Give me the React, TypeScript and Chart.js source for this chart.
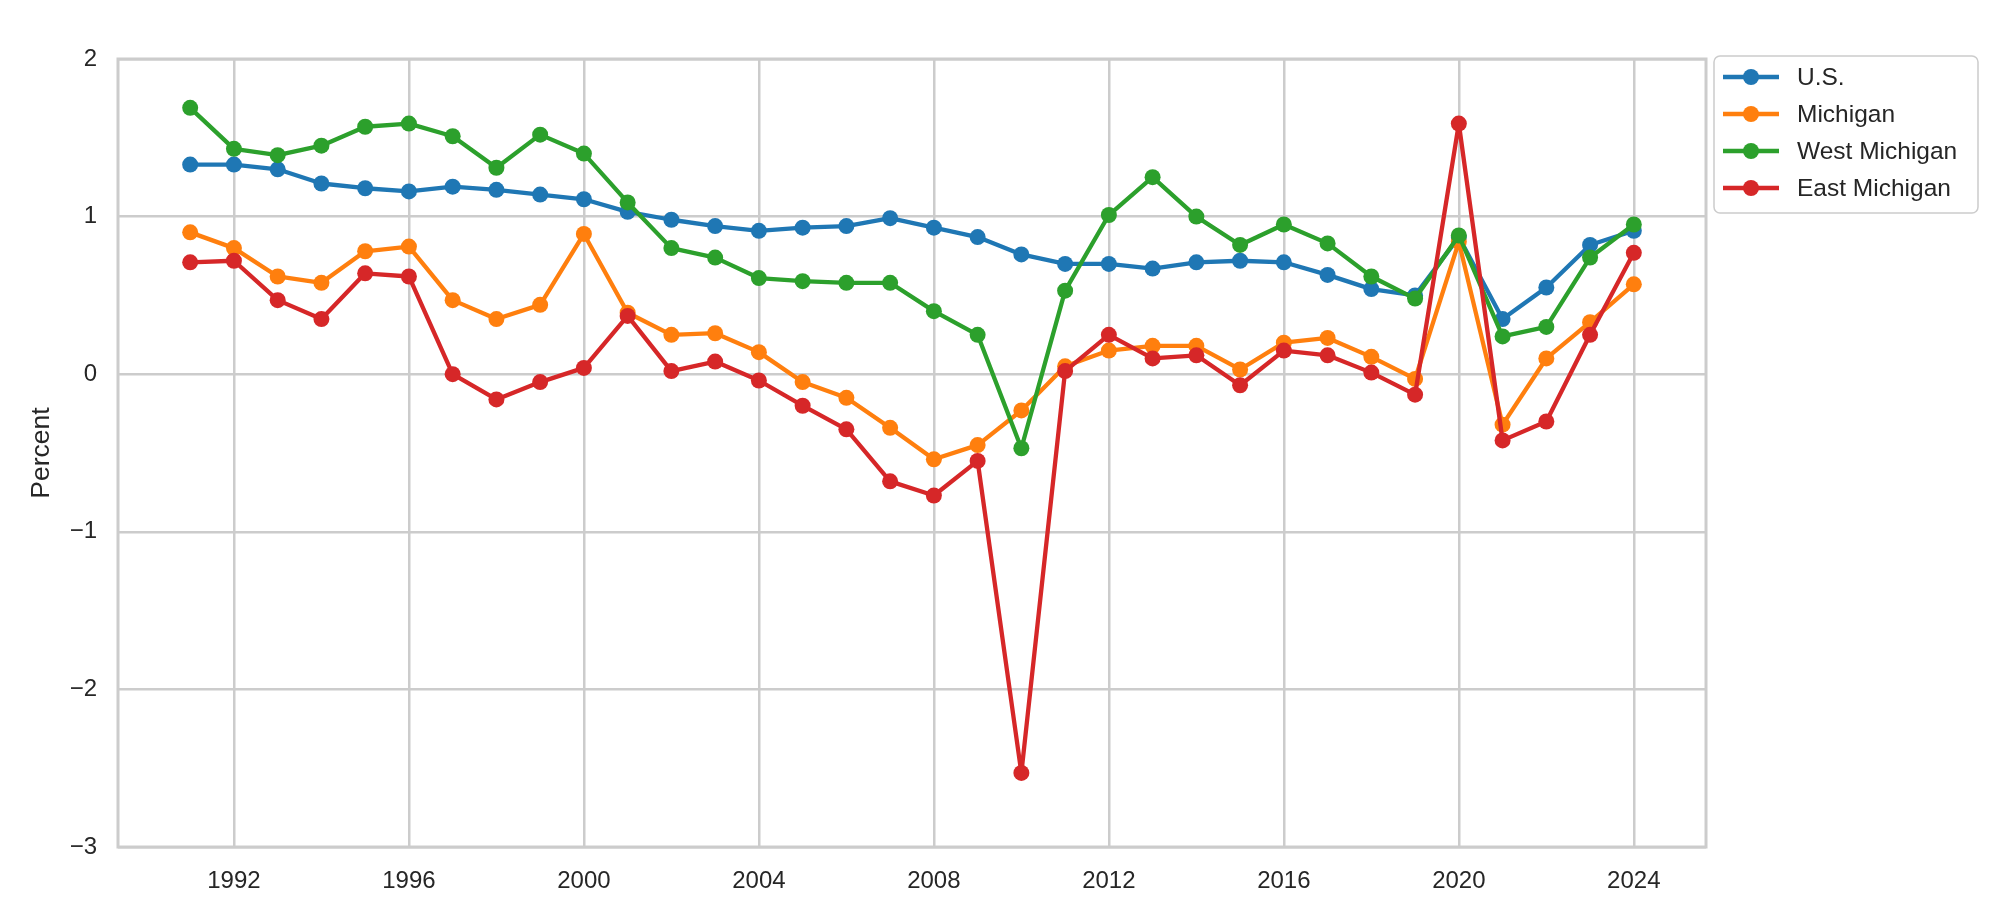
import React, { useEffect, useRef } from "react";
import { Chart, registerables } from "chart.js";

Chart.register(...registerables);

const years = [
  1991, 1992, 1993, 1994, 1995, 1996, 1997, 1998, 1999, 2000,
  2001, 2002, 2003, 2004, 2005, 2006, 2007, 2008, 2009, 2010,
  2011, 2012, 2013, 2014, 2015, 2016, 2017, 2018, 2019, 2020,
  2021, 2022, 2023, 2024,
];

const usValues = [
  1.33, 1.33, 1.30, 1.21, 1.18, 1.16, 1.19, 1.17, 1.14, 1.11,
  1.03, 0.98, 0.94, 0.91, 0.93, 0.94, 0.99, 0.93, 0.87, 0.76,
  0.70, 0.70, 0.67, 0.71, 0.72, 0.71, 0.63, 0.54, 0.50, 0.87,
  0.35, 0.55, 0.82, 0.91,
];

const michiganValues = [
  0.90, 0.80, 0.62, 0.58, 0.78, 0.81, 0.47, 0.35, 0.44, 0.89,
  0.39, 0.25, 0.26, 0.14, -0.05, -0.15, -0.34, -0.54, -0.45, -0.23,
  0.05, 0.15, 0.18, 0.18, 0.03, 0.20, 0.23, 0.11, -0.03, 0.84,
  -0.32, 0.10, 0.33, 0.57,
];

const westMichiganValues = [
  1.69, 1.43, 1.39, 1.45, 1.57, 1.59, 1.51, 1.31, 1.52, 1.40,
  1.09, 0.80, 0.74, 0.61, 0.59, 0.58, 0.58, 0.40, 0.25, -0.47,
  0.53, 1.01, 1.25, 1.00, 0.82, 0.95, 0.83, 0.62, 0.48, 0.88,
  0.24, 0.30, 0.74, 0.95,
];

const eastMichiganValues = [
  0.71, 0.72, 0.47, 0.35, 0.64, 0.62, 0.00, -0.16, -0.05, 0.04,
  0.37, 0.02, 0.08, -0.04, -0.20, -0.35, -0.68, -0.77, -0.55, -2.53,
  0.02, 0.25, 0.10, 0.12, -0.07, 0.15, 0.12, 0.01, -0.13, 1.59,
  -0.42, -0.30, 0.25, 0.77,
];

const seriesNames = ["U.S.", "Michigan", "West Michigan", "East Michigan"];
const seriesColors = ["#1f77b4", "#ff7f0e", "#2ca02c", "#d62728"];
const xTickValues = [1992, 1996, 2000, 2004, 2008, 2012, 2016, 2020, 2024];
const yTickValues = [-3, -2, -1, 0, 1, 2];
const yAxisTitle = "Percent";

const FONT = "Arial, 'Liberation Sans', sans-serif";
const TEXT = "#262626";
const GRID = "#cccccc";

export default function App() {
  const ref = useRef<HTMLCanvasElement | null>(null);

  useEffect(() => {
    const canvas = ref.current;
    if (!canvas) return;
    const allValues = [usValues, michiganValues, westMichiganValues, eastMichiganValues];

    const frame = {
      id: "frame",
      beforeDatasetsDraw(chart: any) {
        const { ctx, chartArea: a } = chart;
        ctx.save();
        ctx.strokeStyle = GRID;
        ctx.lineWidth = 3;
        ctx.strokeRect(a.left, a.top, a.right - a.left, a.bottom - a.top);
        ctx.restore();
      },
    };

    const legendBox = {
      id: "legendBox",
      afterDraw(chart: any) {
        const ctx = chart.ctx;
        const x = 1714, y = 56, w = 264, h = 157, r = 6;
        ctx.save();
        ctx.beginPath();
        ctx.moveTo(x + r, y);
        ctx.arcTo(x + w, y, x + w, y + h, r);
        ctx.arcTo(x + w, y + h, x, y + h, r);
        ctx.arcTo(x, y + h, x, y, r);
        ctx.arcTo(x, y, x + w, y, r);
        ctx.closePath();
        ctx.fillStyle = "rgba(255,255,255,0.8)";
        ctx.fill();
        ctx.strokeStyle = GRID;
        ctx.lineWidth = 1.5;
        ctx.stroke();
        ctx.font = `24.5px ${FONT}`;
        ctx.textBaseline = "middle";
        ctx.textAlign = "left";
        seriesNames.forEach((name, i) => {
          const cy = 77 + i * 37;
          ctx.strokeStyle = seriesColors[i];
          ctx.lineWidth = 4.3;
          ctx.beginPath();
          ctx.moveTo(1723, cy);
          ctx.lineTo(1779, cy);
          ctx.stroke();
          ctx.fillStyle = seriesColors[i];
          ctx.beginPath();
          ctx.arc(1751, cy, 8, 0, Math.PI * 2);
          ctx.fill();
          ctx.fillStyle = TEXT;
          ctx.fillText(name, 1797, cy + 1);
        });
        ctx.restore();
      },
    };

    const datasets = seriesNames.map((name, i) => ({
      label: name,
      data: years.map((yr, j) => ({ x: yr, y: allValues[i][j] })),
      borderColor: seriesColors[i],
      backgroundColor: seriesColors[i],
      borderWidth: 4.3,
      borderJoinStyle: "round" as const,
      pointRadius: 8,
      pointBorderWidth: 0,
      pointBackgroundColor: seriesColors[i],
      tension: 0,
      order: 3 - i,
    }));

    const chart = new Chart(canvas, {
      type: "line",
      data: { datasets },
      plugins: [frame, legendBox],
      options: {
        animation: false,
        responsive: false,
        maintainAspectRatio: false,
        devicePixelRatio: 1,
        layout: { autoPadding: false, padding: { top: 59, right: 294, bottom: 0, left: 0 } },
        plugins: { legend: { display: false }, tooltip: { enabled: false } },
        scales: {
          x: {
            type: "linear",
            min: 1989.35,
            max: 2025.65,
            afterBuildTicks: (s: any) => { s.ticks = xTickValues.map((v) => ({ value: v })); },
            afterFit: (s: any) => { s.height = 75; },
            ticks: {
              callback: (v: any) => String(v),
              color: TEXT,
              font: { family: FONT, size: 24 },
              padding: 20,
              maxRotation: 0,
              autoSkip: false,
            },
            grid: { color: GRID, lineWidth: 2.5, drawTicks: false },
            border: { display: false },
          },
          y: {
            type: "linear",
            min: -3,
            max: 2,
            afterBuildTicks: (s: any) => { s.ticks = yTickValues.map((v) => ({ value: v })); },
            afterFit: (s: any) => { s.width = 118; },
            ticks: {
              callback: (v: any) => (v < 0 ? "\u2212" + Math.abs(v) : String(v)),
              color: TEXT,
              font: { family: FONT, size: 24 },
              padding: 21,
            },
            grid: { color: GRID, lineWidth: 2.5, drawTicks: false },
            border: { display: false },
            title: {
              display: true,
              text: yAxisTitle,
              color: TEXT,
              font: { family: FONT, size: 26.5 },
              padding: { top: 26, bottom: 0 },
            },
          },
        },
      },
    });
    return () => chart.destroy();
  }, []);

  return (
    <div style={{ position: "fixed", left: 0, top: 0, width: 2000, height: 922, background: "#fff" }}>
      <canvas ref={ref} width={2000} height={922} style={{ width: 2000, height: 922, display: "block" }} />
    </div>
  );
}
